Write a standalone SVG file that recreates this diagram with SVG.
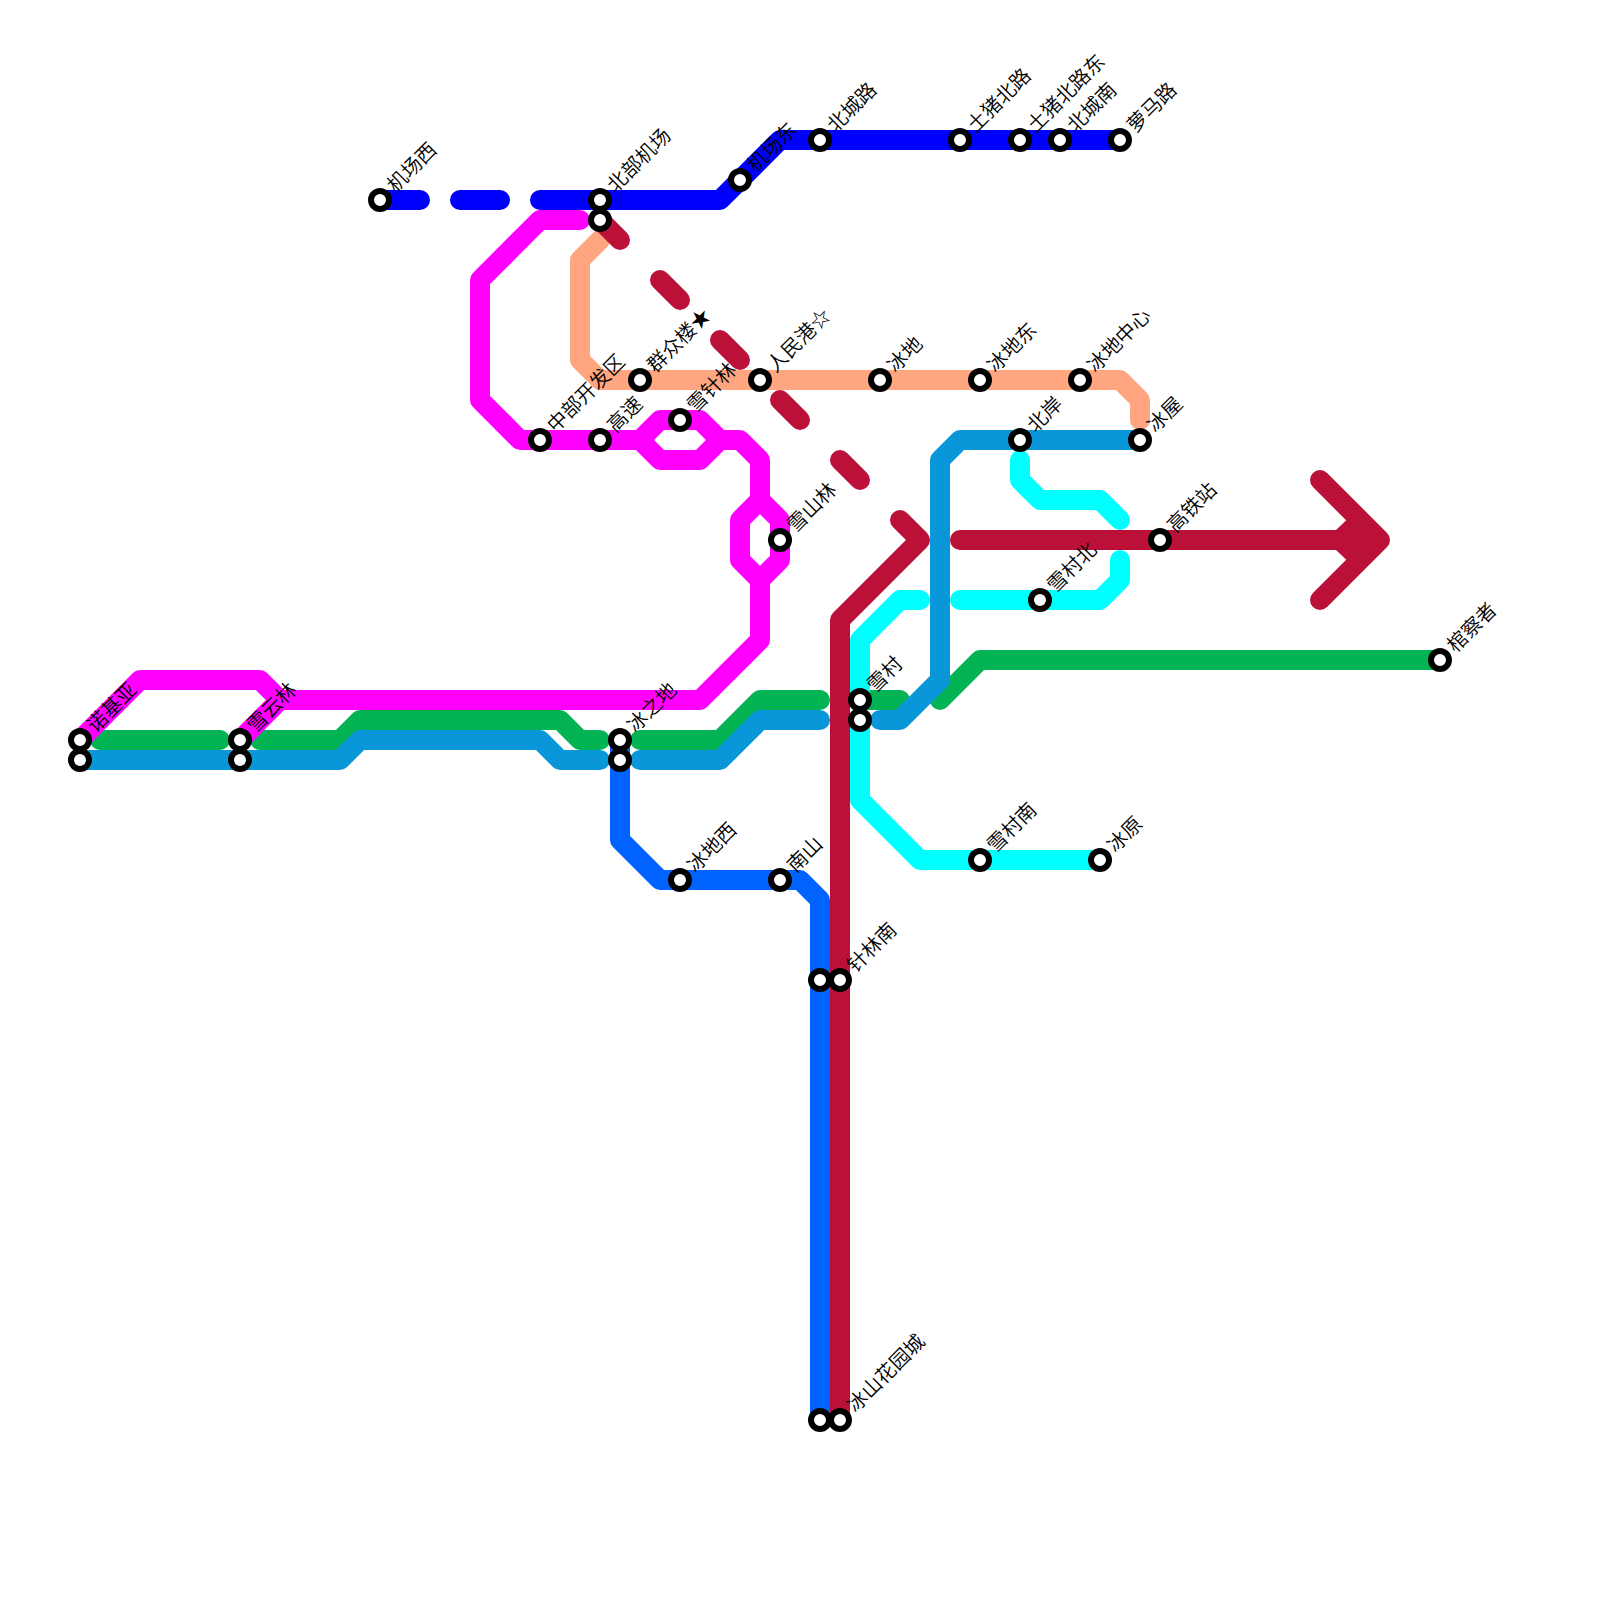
<svg xmlns="http://www.w3.org/2000/svg" width="1600" height="1600" viewBox="0 0 1600 1600">
<style>
.l{fill:none;stroke-width:20;stroke-linecap:round;stroke-linejoin:round}
.o{stroke:#ffa680}.r{stroke:#bb1138}.m{stroke:#ff00ff}.g{stroke:#03b354}.b{stroke:#0a97d9}.c{stroke:#00ffff}.n{stroke:#0000ff}.d{stroke:#0062ff}
.s{fill:#fff;stroke:#000;stroke-width:6}
text{font-family:"Noto Sans CJK SC","Noto Sans",sans-serif;font-size:20px;font-weight:350;fill:#000}
</style>
<rect width="1600" height="1600" fill="#fff"/>
<g id="connectors">
<g id="line-orange"><path class="l o" d="M600 240L580 260V360L600 380H1120L1140 400V420"/></g>
<g id="line-red"><path class="l r" d="M600 220L620 240M660 280L680 300M720 340L740 360M780 400L800 420M840 460L860 480M900 520L920 540L840 620V1420M960 540H1380M1320 480L1380 540L1320 600"/><path fill="#bb1138" d="M1336 530L1346.500 520L1360 530V550L1346.500 560L1336 550Z"/></g>
<g id="line-green"><path class="l g" d="M100 740H220M260 740H340L360 720H560L580 740H600M640 740H720L760 700H820M860 700H900M940 700L980 660H1440"/></g>
<g id="line-magenta"><path class="l m" d="M580 220H540L480 280V400L520 440H640L660 420H700L720 440L700 460H660L640 440M720 440H740L760 460V500L740 520V560L760 580L780 560V520L760 500M760 580V640L700 700H280L260 680H140L80 740M240 740L280 700"/></g>
<g id="line-sky"><path class="l b" d="M80 760H340L360 740H540L560 760H600M640 760H720L760 720H820M880 720H900L940 680V460L960 440H1140"/></g>
<g id="line-cyan"><path class="l c" d="M860 720V800L920 860H1100M860 700V640L900 600H920M960 600H1100L1120 580V560M1120 520L1100 500H1040L1020 480V460"/></g>
<g id="line-navy"><path class="l n" d="M380 200H420M460 200H500M540 200H720L780 140H1120"/></g>
<g id="line-blue"><path class="l d" d="M620 740V840L660 880H800L820 900V1420"/></g>
</g>
<g id="n1"><circle class="s" cx="80" cy="740" r="9"/><text transform="translate(95.500 733.500) rotate(-45)">诺基亚</text></g>
<g id="n2"><circle class="s" cx="80" cy="760" r="9"/></g>
<g id="n3"><circle class="s" cx="240" cy="740" r="9"/><text transform="translate(255.500 733.500) rotate(-45)">雪云林</text></g>
<g id="n4"><circle class="s" cx="240" cy="760" r="9"/></g>
<g id="n5"><circle class="s" cx="380" cy="200" r="9"/><text transform="translate(395.500 193.500) rotate(-45)">机场西</text></g>
<g id="n6"><circle class="s" cx="600" cy="200" r="9"/><text transform="translate(615.500 193.500) rotate(-45)">北部机场</text></g>
<g id="n7"><circle class="s" cx="600" cy="220" r="9"/></g>
<g id="n8"><circle class="s" cx="540" cy="440" r="9"/><text transform="translate(555.500 433.500) rotate(-45)">中部开发区</text></g>
<g id="n9"><circle class="s" cx="600" cy="440" r="9"/><text transform="translate(615.500 433.500) rotate(-45)">高速</text></g>
<g id="n10"><circle class="s" cx="640" cy="380" r="9"/><text transform="translate(655.500 373.500) rotate(-45)">群众楼★</text></g>
<g id="n11"><circle class="s" cx="680" cy="420" r="9"/><text transform="translate(695.500 413.500) rotate(-45)">雪针林</text></g>
<g id="n12"><circle class="s" cx="740" cy="180" r="9"/><text transform="translate(755.500 173.500) rotate(-45)">机场东</text></g>
<g id="n13"><circle class="s" cx="760" cy="380" r="9"/><text transform="translate(775.500 373.500) rotate(-45)">人民港☆</text></g>
<g id="n14"><circle class="s" cx="820" cy="140" r="9"/><text transform="translate(835.500 133.500) rotate(-45)">北城路</text></g>
<g id="n15"><circle class="s" cx="960" cy="140" r="9"/><text transform="translate(975.500 133.500) rotate(-45)">土猪北路</text></g>
<g id="n16"><circle class="s" cx="1020" cy="140" r="9"/><text transform="translate(1035.500 133.500) rotate(-45)">土猪北路东</text></g>
<g id="n17"><circle class="s" cx="1060" cy="140" r="9"/><text transform="translate(1075.500 133.500) rotate(-45)">北城南</text></g>
<g id="n18"><circle class="s" cx="1120" cy="140" r="9"/><text transform="translate(1135.500 133.500) rotate(-45)">萝马路</text></g>
<g id="n19"><circle class="s" cx="880" cy="380" r="9"/><text transform="translate(895.500 373.500) rotate(-45)">冰地</text></g>
<g id="n20"><circle class="s" cx="980" cy="380" r="9"/><text transform="translate(995.500 373.500) rotate(-45)">冰地东</text></g>
<g id="n21"><circle class="s" cx="1080" cy="380" r="9"/><text transform="translate(1095.500 373.500) rotate(-45)">冰地中心</text></g>
<g id="n22"><circle class="s" cx="1020" cy="440" r="9"/><text transform="translate(1035.500 433.500) rotate(-45)">北岸</text></g>
<g id="n23"><circle class="s" cx="1140" cy="440" r="9"/><text transform="translate(1155.500 433.500) rotate(-45)">冰屋</text></g>
<g id="n24"><circle class="s" cx="1160" cy="540" r="9"/><text transform="translate(1175.500 533.500) rotate(-45)">高铁站</text></g>
<g id="n25"><circle class="s" cx="780" cy="540" r="9"/><text transform="translate(795.500 533.500) rotate(-45)">雪山林</text></g>
<g id="n26"><circle class="s" cx="1040" cy="600" r="9"/><text transform="translate(1055.500 593.500) rotate(-45)">雪村北</text></g>
<g id="n27"><circle class="s" cx="860" cy="700" r="9"/><text transform="translate(875.500 693.500) rotate(-45)">雪村</text></g>
<g id="n28"><circle class="s" cx="860" cy="720" r="9"/></g>
<g id="n29"><circle class="s" cx="1440" cy="660" r="9"/><text transform="translate(1455.500 653.500) rotate(-45)">棺察者</text></g>
<g id="n30"><circle class="s" cx="620" cy="740" r="9"/><text transform="translate(635.500 733.500) rotate(-45)">冰之地</text></g>
<g id="n31"><circle class="s" cx="620" cy="760" r="9"/></g>
<g id="n32"><circle class="s" cx="680" cy="880" r="9"/><text transform="translate(695.500 873.500) rotate(-45)">冰地西</text></g>
<g id="n33"><circle class="s" cx="780" cy="880" r="9"/><text transform="translate(795.500 873.500) rotate(-45)">南山</text></g>
<g id="n34"><circle class="s" cx="820" cy="980" r="9"/></g>
<g id="n35"><circle class="s" cx="840" cy="980" r="9"/><text transform="translate(855.500 973.500) rotate(-45)">针林南</text></g>
<g id="n36"><circle class="s" cx="820" cy="1420" r="9"/></g>
<g id="n37"><circle class="s" cx="840" cy="1420" r="9"/><text transform="translate(855.500 1413.500) rotate(-45)">冰山花园城</text></g>
<g id="n38"><circle class="s" cx="980" cy="860" r="9"/><text transform="translate(995.500 853.500) rotate(-45)">雪村南</text></g>
<g id="n39"><circle class="s" cx="1100" cy="860" r="9"/><text transform="translate(1115.500 853.500) rotate(-45)">冰原</text></g>
</svg>
